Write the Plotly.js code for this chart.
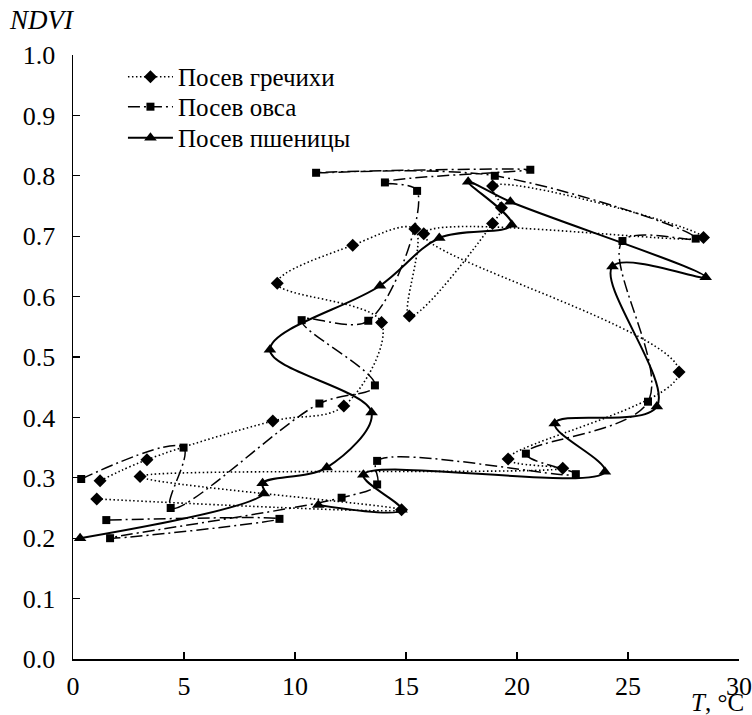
<!DOCTYPE html>
<html>
<head>
<meta charset="utf-8">
<script src="https://cdn.plot.ly/plotly-3.0.1.min.js"></script>
<style>html,body{margin:0;padding:0;background:#fff;}#chart{width:752px;height:715px;}</style>
</head>
<body>
<div id="chart"></div>
<script>
// Посев гречихи (buckwheat) — points in drawing order
var buckwheatT    = [1.22, 3.33, 9.0, 12.2, 13.9, 9.2, 12.6, 15.4, 15.15, 18.9, 19.3, 18.9, 28.4, 15.8, 27.3, 19.6, 22.06, 3.02, 14.8, 1.07];
var buckwheatNDVI = [0.295, 0.33, 0.394, 0.419, 0.557, 0.622, 0.685, 0.712, 0.568, 0.721, 0.747, 0.783, 0.698, 0.704, 0.475, 0.331, 0.316, 0.302, 0.247, 0.265];

// Посев овса (oats)
var oatsT    = [0.37, 4.98, 4.4, 11.1, 13.6, 10.3, 13.3, 15.5, 14.05, 20.6, 10.95, 19.0, 28.05, 24.75, 25.9, 20.4, 22.65, 13.7, 13.7, 12.1, 1.67, 9.3, 1.5];
var oatsNDVI = [0.298, 0.35, 0.25, 0.423, 0.453, 0.561, 0.56, 0.775, 0.789, 0.81, 0.805, 0.80, 0.696, 0.692, 0.426, 0.34, 0.306, 0.328, 0.289, 0.267, 0.20, 0.232, 0.23];

// Посев пшеницы (wheat)
var wheatT    = [0.32, 8.6, 8.54, 11.43, 13.45, 8.87, 13.83, 16.5, 19.76, 17.8, 19.7, 28.5, 24.3, 26.3, 21.7, 23.96, 13.08, 14.8, 11.05];
var wheatNDVI = [0.20, 0.274, 0.291, 0.317, 0.408, 0.512, 0.618, 0.697, 0.719, 0.79, 0.757, 0.632, 0.65, 0.418, 0.39, 0.31, 0.305, 0.247, 0.255];

var seriesNames = ['Посев гречихи', 'Посев овса', 'Посев пшеницы'];
var xTicks = [0, 5, 10, 15, 20, 25, 30];
var yTicks = [0.0, 0.1, 0.2, 0.3, 0.4, 0.5, 0.6, 0.7, 0.8, 0.9, 1.0];

var FONT = 'Liberation Serif';

var traces = [
  {
    x: buckwheatT, y: buckwheatNDVI, name: seriesNames[0], mode: 'lines+markers', type: 'scatter', legend: 'legend',
    line: {color: '#000', width: 1.6, dash: '1.5px,2.5px', shape: 'spline', smoothing: 1},
    marker: {symbol: 'diamond', size: 10, color: '#000'}
  },
  {
    x: oatsT, y: oatsNDVI, name: seriesNames[1], mode: 'lines+markers', type: 'scatter', legend: 'legend2',
    line: {color: '#000', width: 1.5, dash: '12px,4px,2px,4px', shape: 'spline', smoothing: 1},
    marker: {symbol: 'square', size: 8, color: '#000'}
  },
  {
    x: wheatT, y: wheatNDVI, name: seriesNames[2], mode: 'lines+markers', type: 'scatter', legend: 'legend3',
    line: {color: '#000', width: 2, shape: 'spline', smoothing: 1},
    marker: {symbol: 'triangle-up', size: 11, color: '#000'}
  }
];

function legendAt(yPaper) {
  return {x: 0.075, y: yPaper, xanchor: 'left', yanchor: 'middle', bgcolor: 'rgba(0,0,0,0)',
          borderwidth: 0, itemwidth: 45, font: {family: FONT, size: 25, color: '#000'}};
}

var layout = {
  width: 752, height: 715,
  margin: {l: 73, r: 13, t: 55, b: 56},
  paper_bgcolor: '#fff', plot_bgcolor: '#fff',
  font: {family: FONT, size: 24, color: '#000'},
  showlegend: true,
  legend: legendAt(0.9636),
  legend2: legendAt(0.914),
  legend3: legendAt(0.8626),
  xaxis: {
    range: [0, 30], tickvals: xTicks, ticktext: xTicks.map(String),
    ticks: 'inside', ticklen: 7, tickwidth: 1.2, tickcolor: '#000',
    showline: true, linecolor: '#000', linewidth: 1.5, showgrid: false, zeroline: false,
    mirror: false, ticklabelstandoff: 3,
    tickfont: {family: FONT, size: 26, color: '#000'}
  },
  yaxis: {
    range: [0, 1.0], tickvals: yTicks, ticktext: yTicks.map(function(v){return v.toFixed(1);}),
    ticks: 'inside', ticklen: 7, tickwidth: 1.2, tickcolor: '#000',
    showline: true, linecolor: '#000', linewidth: 1.5, showgrid: false, zeroline: false,
    mirror: false, ticklabelstandoff: 11,
    tickfont: {family: FONT, size: 26, color: '#000'}
  },
  annotations: [
    {text: '<i>NDVI</i>', xref: 'paper', yref: 'paper', x: -0.099, y: 1.058, xanchor: 'left', yanchor: 'middle',
     showarrow: false, font: {family: FONT, size: 27, color: '#000'}},
    {text: '<i>T</i>, °C', xref: 'paper', yref: 'paper', x: 1.011, y: -0.0725, xanchor: 'right', yanchor: 'middle',
     showarrow: false, font: {family: FONT, size: 25, color: '#000'}}
  ]
};

Plotly.newPlot('chart', traces, layout, {displayModeBar: false, staticPlot: true});
</script>
</body>
</html>
